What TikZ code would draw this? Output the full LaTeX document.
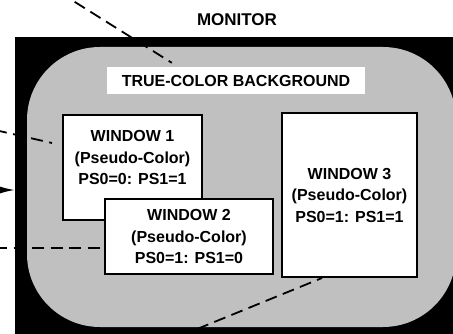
\documentclass[tikz,border=0pt]{standalone}
\usepackage{fontspec}
\setmainfont{Liberation Sans}
\usetikzlibrary{positioning,calc,arrows.meta}
\definecolor{screengray}{RGB}{192,192,192}
\tikzset{
  winbox/.style={draw=black,line width=2pt,fill=white,inner sep=0pt},
  wintext/.style={align=center,inner sep=0pt,font=\bfseries\fontsize{16}{21.5}\selectfont},
  callout/.style={line width=1.8pt,dash pattern=on 12pt off 6.5pt}
}
\begin{document}
\begin{tikzpicture}[x=1pt,y=-1pt]
\useasboundingbox (0,0) rectangle (453,334);
\clip (0,0) rectangle (453,334);
\fill[black] (15,37) rectangle (460,340);
\fill[screengray,rounded corners=73pt] (27,47) rectangle (456,327);
\node[font=\bfseries\fontsize{17}{20}\selectfont,anchor=base] (title) at (237,26) {MONITOR};
\node[fill=white,minimum width=258pt,minimum height=27pt,inner sep=0pt,font=\bfseries\fontsize{16}{19}\selectfont] (bgbox) at (236,80.5) {TRUE-COLOR BACKGROUND};
\node[winbox,minimum width=139pt,minimum height=105pt] (win1) at (132.5,167.5) {};
\node[wintext,below=16.5pt of win1.north] (win1txt) {WINDOW 1\\(Pseudo-Color)\\PS0=0: PS1=1};
\node[winbox,wintext,minimum width=168pt,minimum height=75pt] (win2) at (189,236.5) {WINDOW 2\\(Pseudo-Color)\\PS0=1: PS1=0};
\node[winbox,wintext,minimum width=135pt,minimum height=164pt] (win3) at (349.5,195) {WINDOW 3\\(Pseudo-Color)\\PS0=1: PS1=1};
\coordinate (bgfrom) at (59,-8); \coordinate (bgto) at ($(bgbox.north west)+(65,-4)$);
\coordinate (w1from) at (-5,130); \coordinate (w1to) at ($(win1.west)+(-10,-24.5)$);
\coordinate (w2from) at (-5,248); \coordinate (w3from) at (180,336);
\coordinate (arrfrom) at (-30,190); \coordinate (bezel) at (15,190);
\draw[callout] (bgfrom) -- (bgto);
\draw[callout] (w1from) -- (w1to);
\draw[callout] (w2from) -- ($(win2.west)+(0,11.5)$);
\draw[callout] (w3from) -- ($(win3.south west)+(41,0)$);
\draw[line width=1.5pt,-{Latex[length=15pt,width=7pt]}] (arrfrom) -- (bezel);
\end{tikzpicture}
\end{document}
